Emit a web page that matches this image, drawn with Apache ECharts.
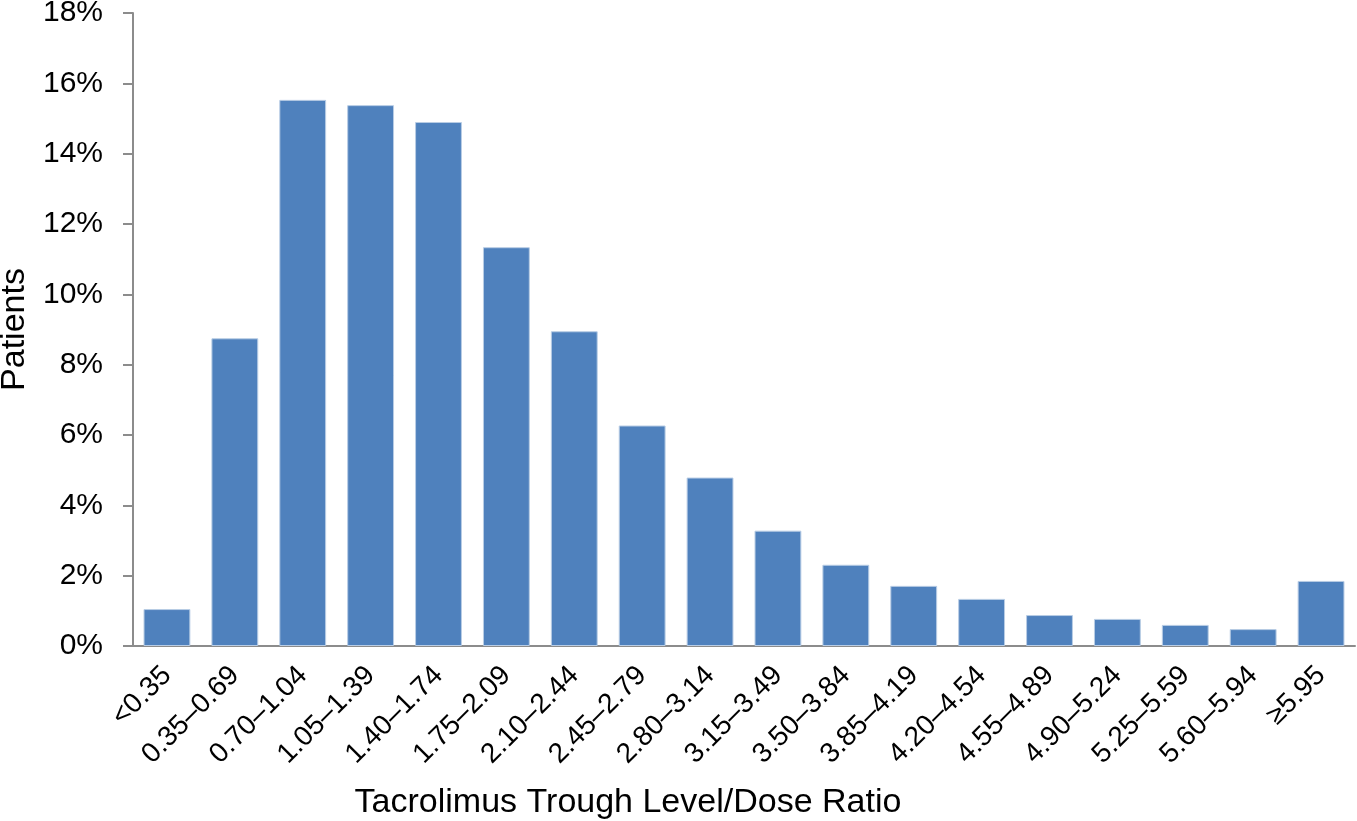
<!DOCTYPE html>
<html>
<head>
<meta charset="utf-8">
<script src="https://cdn.jsdelivr.net/npm/echarts@6/dist/echarts.min.js"></script>
<style>
  html, body { margin: 0; padding: 0; background: #fff; }
  #chart { width: 1357px; height: 821px; }
</style>
</head>
<body>
<div id="chart"></div>
<script>
  // ratio bins
  var categories = ['<0.35', '0.35–0.69', '0.70–1.04', '1.05–1.39', '1.40–1.74', '1.75–2.09',
    '2.10–2.44', '2.45–2.79', '2.80–3.14', '3.15–3.49', '3.50–3.84', '3.85–4.19',
    '4.20–4.54', '4.55–4.89', '4.90–5.24', '5.25–5.59', '5.60–5.94', '≥5.95'];
  // percent of patients
  var patientPct = [1.05, 8.75, 15.53, 15.38, 14.9, 11.34, 8.95, 6.27, 4.79, 3.28,
    2.31, 1.71, 1.34, 0.88, 0.77, 0.6, 0.48, 1.85];

  var chart = echarts.init(document.getElementById('chart'));
  var font = 'Liberation Sans, Arial, sans-serif';
  var axisGray = '#8c8c8c';

  chart.setOption({
    animation: false,
    grid: { left: 133, right: 2, top: 13, bottom: 175, outerBoundsMode: 'none', containLabel: false },
    xAxis: {
      type: 'category',
      data: categories,
      name: 'Tacrolimus Trough Level/Dose Ratio',
      nameLocation: 'middle',
      nameGap: 140,
      nameTextStyle: { fontFamily: font, fontSize: 34, color: '#000', padding: [0, 232, 0, 0] },
      axisLine: { lineStyle: { color: axisGray, width: 2 } },
      axisTick: { length: 9, lineStyle: { color: axisGray, width: 2 } },
      axisLabel: { rotate: 45, fontFamily: font, fontSize: 28, color: '#000', margin: 25, interval: 0 }
    },
    yAxis: {
      type: 'value',
      min: 0, max: 18, interval: 2,
      name: 'Patients',
      nameLocation: 'middle',
      nameGap: 98,
      nameTextStyle: { fontFamily: font, fontSize: 34, color: '#000' },
      axisLine: { show: true, lineStyle: { color: axisGray, width: 2 } },
      axisTick: { show: true, length: 10, lineStyle: { color: axisGray, width: 2 } },
      splitLine: { show: false },
      axisLabel: { fontFamily: font, fontSize: 30, color: '#000', margin: 30,
        formatter: function (v) { return v + '%'; } }
    },
    series: [{
      type: 'bar',
      data: patientPct,
      barCategoryGap: '31%',
      itemStyle: { color: '#4f81bd', borderColor: '#b9cde5', borderWidth: 1 }
    }]
  });
</script>
</body>
</html>
